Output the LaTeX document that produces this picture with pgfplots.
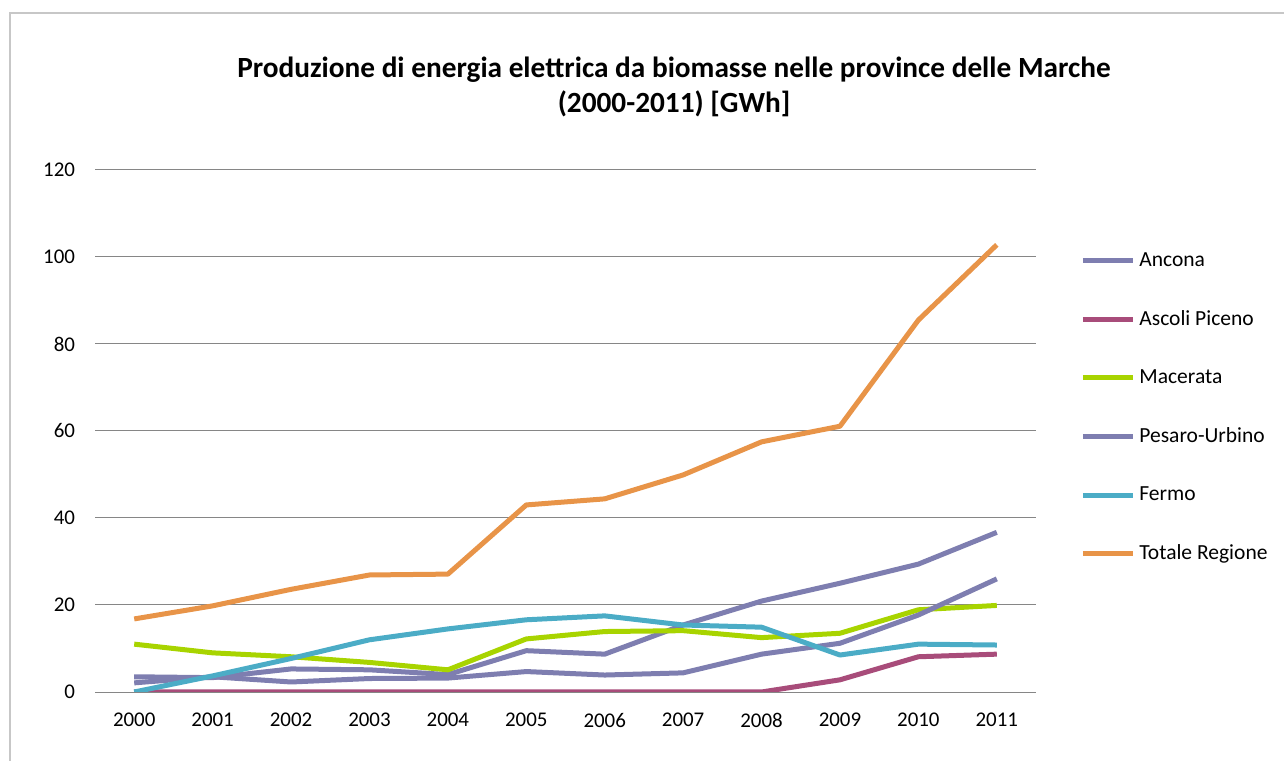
\documentclass[border=0pt]{standalone}
\usepackage{pgfplots}
\pgfplotsset{compat=1.18}
\usepackage{fontspec}
\setmainfont{Carlito}
\definecolor{cAnc}{RGB}{126,126,176}
\definecolor{cAsc}{RGB}{168,76,122}
\definecolor{cMac}{RGB}{168,212,0}
\definecolor{cFer}{RGB}{75,172,198}
\definecolor{cTot}{RGB}{232,148,72}
\definecolor{cGrid}{RGB}{134,134,134}
\begin{document}
\begin{tikzpicture}
\useasboundingbox (0,0) rectangle (642bp,380.5bp);
\draw[line width=0.6bp, color=black!22] (5bp,0) -- (5bp,374bp) -- (642bp,374bp);
\node[font=\fontsize{14.7}{17.5}\selectfont\bfseries, align=center] at (337bp,337bp)
  {Produzione di energia elettrica da biomasse nelle province delle Marche\\(2000-2011) [GWh]};
\begin{axis}[
  at={(47.5bp,34.5bp)}, anchor=south west, scale only axis,
  width=470.5bp, height=261bp,
  xmin=-0.5, xmax=11.5, ymin=0, ymax=120,
  xtick={0,1,2,3,4,5,6,7,8,9,10,11},
  xticklabels={2000,2001,2002,2003,2004,2005,2006,2007,2008,2009,2010,2011},
  ytick={0,20,40,60,80,100,120},
  ymajorgrids, grid style={cGrid, line width=0.5bp},
  axis line style={draw=none},
  major tick length=0pt,
  /pgf/number format/assume math mode=true,
  tick label style={font=\fontsize{10.5}{12.5}\selectfont},
  yticklabel style={xshift=-6.5bp},
  xticklabel style={yshift=-7bp},
  legend cell align=left,
  legend style={at={(1.0404,0.858)}, anchor=north west, draw=none, fill=none,
    row sep=16.6bp, font=\fontsize{10.8}{13}\selectfont},
  legend image code/.code={\draw[#1, line width=2.5bp] (0bp,0bp) -- (25bp,0bp);},
  every axis plot/.append style={line width=2.5bp, no markers, line join=round},
]
\addplot[cAnc] coordinates {(0,3.5) (1,3.3) (2,5.3) (3,5.1) (4,4.0) (5,9.5) (6,8.7) (7,15.4) (8,20.9) (9,25.0) (10,29.4) (11,36.7)};
\addlegendentry{Ancona}
\addplot[cAsc] coordinates {(0,0) (1,0) (2,0) (3,0) (4,0) (5,0) (6,0) (7,0) (8,0) (9,2.8) (10,8.1) (11,8.7)};
\addlegendentry{Ascoli Piceno}
\addplot[cMac] coordinates {(0,11.0) (1,9.0) (2,8.1) (3,6.8) (4,5.1) (5,12.2) (6,13.9) (7,14.1) (8,12.5) (9,13.5) (10,18.9) (11,19.9)};
\addlegendentry{Macerata}
\addplot[cAnc] coordinates {(0,2.1) (1,3.5) (2,2.3) (3,3.1) (4,3.2) (5,4.7) (6,3.9) (7,4.4) (8,8.7) (9,11.2) (10,17.7) (11,26.0)};
\addlegendentry{Pesaro-Urbino}
\addplot[cFer] coordinates {(0,0) (1,3.7) (2,7.7) (3,12.0) (4,14.5) (5,16.6) (6,17.5) (7,15.4) (8,14.9) (9,8.5) (10,11.0) (11,10.8)};
\addlegendentry{Fermo}
\addplot[cTot] coordinates {(0,16.8) (1,19.8) (2,23.6) (3,26.9) (4,27.1) (5,43.0) (6,44.4) (7,49.9) (8,57.5) (9,61.1) (10,85.5) (11,102.8)};
\addlegendentry{Totale Regione}
\end{axis}
\end{tikzpicture}
\end{document}
